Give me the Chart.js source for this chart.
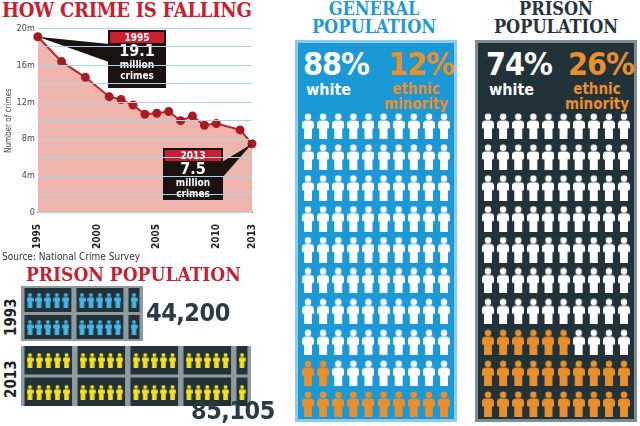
<!DOCTYPE html>
<html><head><meta charset="utf-8">
<script src="https://cdn.jsdelivr.net/npm/chart.js@4.4.0/dist/chart.umd.min.js"></script>
<style>
body{margin:0;width:640px;height:426px;background:#fff;position:relative;overflow:hidden;font-family:"DejaVu Sans Condensed","DejaVu Sans",sans-serif}
.abs{position:absolute}
.slab{font-family:"DejaVu Serif Condensed","DejaVu Serif",serif;font-weight:bold;line-height:1}
.cond{font-family:"DejaVu Sans Condensed","DejaVu Sans",sans-serif;font-weight:bold;line-height:1}
</style></head><body>
<div class="abs slab" style="left:2px;top:0px;font-size:20px;color:#c8202f;letter-spacing:-0.3px">HOW CRIME IS FALLING</div>
<div class="abs" style="left:0;top:20px;width:270px;height:232px"><canvas id="crime"></canvas></div>
<div class="abs" style="left:2px;top:251px;font-size:10px;color:#333;font-family:'DejaVu Sans Condensed'">Source: National Crime Survey</div>
<div class="abs slab" style="left:26px;top:265px;font-size:19px;color:#c8202f">PRISON POPULATION</div>
<div class="abs cond" style="font-size:15px;color:#222;transform:rotate(-90deg);transform-origin:0 0;left:4px;top:336px">1993</div>
<div class="abs cond" style="left:4px;top:398px;font-size:15px;color:#222;transform:rotate(-90deg);transform-origin:0 0">2013</div>
<div class="abs" style="left:21px;top:286px;width:122px;height:55px"><canvas id="p1993"></canvas></div>
<div class="abs" style="left:21px;top:346px;width:230px;height:60px"><canvas id="p2013"></canvas></div>
<div class="abs cond" id="n1993" style="left:146px;top:300px;font-size:25px;color:#2a3b43;letter-spacing:-0.5px"></div>
<div class="abs cond" id="n2013" style="left:191px;top:398px;font-size:25px;color:#2a3b43;letter-spacing:-0.5px"></div>

<div class="abs slab" style="left:290px;top:0px;width:168px;text-align:center;font-size:18px;color:#1e9ad6">GENERAL<br>POPULATION</div>
<div class="abs slab" style="left:474px;top:0px;width:164px;text-align:center;font-size:18px;color:#26343b">PRISON<br>POPULATION</div>
<div class="abs" style="left:295px;top:40px;width:156px;height:376px;background:#1b98d6;border:3px solid #8dcbea"></div>
<div class="abs" style="left:475px;top:40px;width:156px;height:376px;background:#213239;border:3px solid #7d8d93"></div>
<div class="abs cond" style="left:303px;top:48px;color:#fff;font-size:32px;letter-spacing:-1px" id="gw"></div>
<div class="abs cond" style="left:306px;top:82px;color:#fff;font-size:16px">white</div>
<div class="abs cond" style="left:388px;top:48px;color:#e98f2b;font-size:32px;letter-spacing:-1px" id="gm"></div>
<div class="abs cond" style="left:380px;top:82px;width:72px;text-align:center;color:#e98f2b;font-size:15px;line-height:15px">ethnic<br>minority</div>
<div class="abs cond" style="left:486px;top:48px;color:#fff;font-size:32px;letter-spacing:-1px" id="pw"></div>
<div class="abs cond" style="left:489px;top:82px;color:#fff;font-size:16px">white</div>
<div class="abs cond" style="left:568px;top:48px;color:#e98f2b;font-size:32px;letter-spacing:-1px" id="pm"></div>
<div class="abs cond" style="left:561px;top:82px;width:72px;text-align:center;color:#e98f2b;font-size:15px;line-height:15px">ethnic<br>minority</div>
<div class="abs" style="left:300px;top:112px;width:152px;height:306px"><canvas id="gen"></canvas></div>
<div class="abs" style="left:480px;top:112px;width:152px;height:306px"><canvas id="pri"></canvas></div>
<script>
const crimeYears=[1995,1997,1999,2001,2002,2003,2004,2005,2006,2007,2008,2009,2010,2012,2013];
const crimeValues=[19.1,16.4,14.7,12.6,12.3,11.7,10.7,10.8,11.0,10.0,10.5,9.5,9.7,9.0,7.5];
const xTickYears=[1995,2000,2005,2010,2013];
const yTickLabels=["0","4m","8m","12m","16m","20m"];
const callouts=[{year:"1995",value:"19.1",line1:"million",line2:"crimes"},{year:"2013",value:"7.5",line1:"million",line2:"crimes"}];
const prisonYears=["1993","2013"];
const prisonTotals=[44200,85105];
const prisonIconsPerRow=[11,21];
const generalShares=[88,12];
const prisonShares=[74,26];

Chart.defaults.animation=false;
Chart.defaults.font.family="'DejaVu Sans Condensed','DejaVu Sans',sans-serif";

function person(color,w,h){
  const c=document.createElement('canvas');c.width=w;c.height=h;const x=c.getContext('2d');x.fillStyle=color;
  const hr=w*0.27;x.beginPath();x.arc(w/2,hr+0.5,hr,0,Math.PI*2);x.fill();
  const top=hr*2+1;x.beginPath();x.roundRect(0,top,w,h*0.6-top,[w*0.3,w*0.3,1,1]);x.fill();
  x.fillRect(w*0.17,h*0.55,w*0.66,h*0.45);
  return c;
}

const calloutPlugin={id:'callouts',afterDatasetsDraw(ch){
  const c=ch.ctx,xs=ch.scales.x,ys=ch.scales.y;
  const specs=[{i:0,bx:108,by:10,w:58,h:58,side:'left'},{i:crimeValues.length-1,bx:163,by:128,w:60,h:52,side:'right'}];
  specs.forEach((s,k)=>{
    const px=xs.getPixelForValue(crimeYears[s.i]),py=ys.getPixelForValue(crimeValues[s.i]);
    const co=callouts[k];
    c.fillStyle='#1a1311';c.beginPath();
    if(s.side==='left'){c.moveTo(px,py);c.lineTo(s.bx+1,s.by+14);c.lineTo(s.bx+1,s.by+32);}
    else{c.moveTo(px,py);c.lineTo(s.bx+s.w-1,s.by+14);c.lineTo(s.bx+s.w-1,s.by+30);}
    c.fill();
    c.fillRect(s.bx,s.by,s.w,s.h);
    c.fillStyle='#c8202f';c.fillRect(s.bx+2,s.by+2,s.w-4,11);
    c.fillStyle='#fff';c.textAlign='center';c.textBaseline='middle';
    c.font="bold 10px 'DejaVu Sans Condensed'";c.fillText(co.year,s.bx+s.w/2,s.by+8);
    c.font="bold 16px 'DejaVu Sans Condensed'";c.fillText(co.value,s.bx+s.w/2,s.by+22);
    c.font="bold 10px 'DejaVu Sans Condensed'";c.fillText(co.line1,s.bx+s.w/2,s.by+35);c.fillText(co.line2,s.bx+s.w/2,s.by+46);
  });
}};
new Chart(document.getElementById('crime'),{type:'line',
  data:{datasets:[{data:crimeYears.map((y,i)=>({x:y,y:crimeValues[i]})),borderColor:'#c0232b',borderWidth:2,clip:false,
    backgroundColor:'rgba(222,120,104,0.55)',fill:'origin',pointRadius:3.5,pointBackgroundColor:'#a81b20',pointBorderColor:'#a81b20',tension:0}]},
  options:{responsive:true,maintainAspectRatio:false,layout:{padding:{top:2,right:18,left:4}},
    plugins:{legend:{display:false},tooltip:{enabled:false}},
    scales:{x:{type:'linear',min:1995,max:2013,afterBuildTicks:a=>{a.ticks=xTickYears.map(v=>({value:v}))},
        ticks:{maxRotation:90,minRotation:90,color:'#222',font:{size:10,weight:'bold'},padding:3,callback:v=>String(v)},grid:{display:false},border:{color:'#888'}},
      y:{min:0,max:20,ticks:{stepSize:2,color:'#444',font:{size:9},callback:v=>v%4===0?yTickLabels[v/4]:''},
        grid:{color:'#a9d6ec',lineWidth:1,z:1,drawTicks:false},border:{display:false},
        title:{display:true,text:'Number of crimes',color:'#444',font:{size:8},padding:0}}}},
  plugins:[calloutPlugin]});

function iconRows(id,n,color,total,numId){
  const pts=[];for(let r=0;r<2;r++)for(let i=0;i<n;i++){const g=Math.floor(i/5);pts.push({x:i+g*0.8,y:r});}
  const groups=Math.ceil(n/5);const maxX=(n-1)+(groups-1)*0.8;
  const icon=person(color,7,15);
  new Chart(document.getElementById(id),{type:'scatter',data:{datasets:[{data:pts,pointStyle:icon,pointRadius:5,clip:false}]},
    options:{responsive:true,maintainAspectRatio:false,layout:{padding:{left:9,right:9,top:14,bottom:14}},
      plugins:{legend:{display:false},tooltip:{enabled:false}},
      scales:{x:{display:false,min:0,max:maxX},y:{display:false,min:0,max:1,reverse:true}}},
    plugins:[{id:'boxes',beforeDatasetsDraw(ch){const c=ch.ctx,xs=ch.scales.x,ys=ch.scales.y;
      c.fillStyle='#8e9ca0';c.fillRect(0,0,ch.width,ch.height);
      const half=(ys.getPixelForValue(1)-ys.getPixelForValue(0))/2-1.5;
      for(let r=0;r<2;r++)for(let g=0;g<groups;g++){const a=g*5,b=Math.min(n-1,g*5+4);
        const x0=xs.getPixelForValue(a+g*0.8)-5.5,x1=xs.getPixelForValue(b+g*0.8)+5.5;
        const yc=ys.getPixelForValue(r);c.fillStyle='#233238';c.fillRect(x0,yc-half,x1-x0,half*2);}
    }}]});
  document.getElementById(numId).textContent=total.toLocaleString('en-GB');
}
iconRows('p1993',prisonIconsPerRow[0],'#46b6e8',prisonTotals[0],'n1993');
iconRows('p2013',prisonIconsPerRow[1],'#f3e21a',prisonTotals[1],'n2013');

function grid(id,shares,orange){
  const nWhite=shares[0],nMin=shares[1];const fullRows=Math.floor(nMin/10),partial=nMin%10;
  const W=[],M=[];for(let r=0;r<10;r++)for(let col=0;col<10;col++){
    const fromBottom=9-r;
    const isM=fromBottom<fullRows||(fromBottom===fullRows&&col<partial);(isM?M:W).push({x:col,y:r});}
  const wi=person('#ffffff',12,26),oi=person(orange,12,26);
  new Chart(document.getElementById(id),{type:'scatter',data:{datasets:[{data:W,pointStyle:wi,pointRadius:6,clip:false},{data:M,pointStyle:oi,pointRadius:6,clip:false}]},
    options:{responsive:true,maintainAspectRatio:false,layout:{padding:{left:8,right:8,top:14,bottom:14}},
      plugins:{legend:{display:false},tooltip:{enabled:false}},
      scales:{x:{display:false,min:0,max:9},y:{display:false,min:0,max:9,reverse:true}}}});
}
grid('gen',generalShares,'#e98f2b');
grid('pri',prisonShares,'#e98f2b');
document.getElementById('gw').textContent=generalShares[0]+'%';
document.getElementById('gm').textContent=generalShares[1]+'%';
document.getElementById('pw').textContent=prisonShares[0]+'%';
document.getElementById('pm').textContent=prisonShares[1]+'%';
</script></body></html>
